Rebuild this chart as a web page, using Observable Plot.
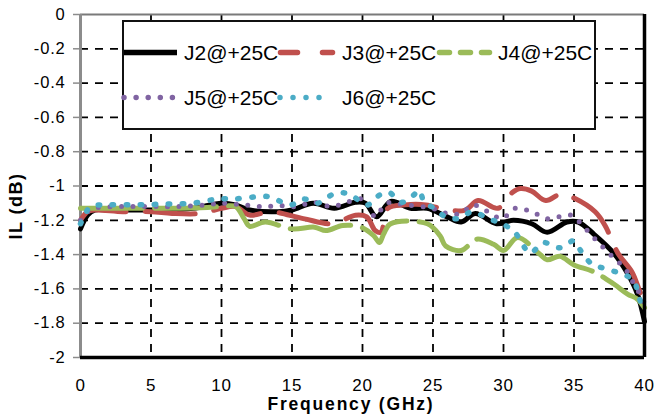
<!DOCTYPE html>
<html><head><meta charset="utf-8">
<script src="https://cdn.jsdelivr.net/npm/d3@7"></script>
<script src="https://cdn.jsdelivr.net/npm/@observablehq/plot@0.6"></script>
<style>
html,body{margin:0;padding:0;background:#fff;}
#chart{position:relative;width:657px;height:418px;overflow:hidden;}
</style></head><body><div id="chart"></div>
<script>
// ---- data ----
const seriesNames = ["J2@+25C", "J3@+25C", "J4@+25C", "J5@+25C", "J6@+25C"];

const j2Freq = [0, 0.5, 1, 2, 4, 6, 8, 10, 11, 12, 14, 15, 16.5, 18, 19.5, 20.2, 21, 22, 23.4, 24.6, 26, 27, 28, 29.5, 30.7, 32, 33.1, 34.5, 35.3, 36.4, 37.8, 38.8, 39.5, 40];
const j2IL   = [-1.25, -1.17, -1.14, -1.14, -1.14, -1.14, -1.13, -1.10, -1.11, -1.14, -1.15, -1.14, -1.10, -1.13, -1.095, -1.10, -1.18, -1.09, -1.13, -1.13, -1.18, -1.21, -1.16, -1.22, -1.20, -1.22, -1.27, -1.21, -1.21, -1.28, -1.39, -1.51, -1.63, -1.79];

const j3Freq = [0, 0.5, 1, 3, 5, 6.5, 8.5, 10, 11, 12, 13.5, 15.8, 17.9, 19.5, 20.3, 20.9, 21.3, 21.8, 23, 24.5, 26, 27.3, 28.2, 29.6, 30.6, 31.2, 32, 33, 34.1, 35, 36.5, 37.2, 38.1, 39.1, 39.6, 40];
const j3IL   = [-1.2, -1.15, -1.14, -1.15, -1.15, -1.16, -1.16, -1.13, -1.12, -1.17, -1.15, -1.19, -1.22, -1.17, -1.18, -1.26, -1.27, -1.13, -1.11, -1.11, -1.14, -1.14, -1.085, -1.13, -1.04, -1.015, -1.03, -1.085, -1.045, -1.07, -1.15, -1.23, -1.39, -1.50, -1.60, -1.68];

const j4Freq = [0, 1, 3, 5, 7, 9, 10, 11, 11.6, 12, 13.1, 15, 16.6, 17.4, 18.6, 19.9, 20.8, 21.2, 21.5, 22, 24.6, 25.5, 25.9, 27, 28.1, 29.3, 30, 31, 32.6, 33.1, 34, 35, 36.4, 37.8, 38.8, 39.5, 40];
const j4IL   = [-1.13, -1.13, -1.13, -1.13, -1.13, -1.125, -1.12, -1.12, -1.19, -1.235, -1.21, -1.25, -1.24, -1.26, -1.23, -1.24, -1.29, -1.33, -1.28, -1.22, -1.22, -1.29, -1.35, -1.376, -1.31, -1.34, -1.376, -1.30, -1.40, -1.43, -1.41, -1.46, -1.50, -1.57, -1.63, -1.66, -1.71];

const j5Freq = [0, 0.5, 1, 3, 5, 7, 9, 10, 11.5, 13, 14.3, 15.2, 16.6, 17.8, 19.7, 20.2, 20.9, 21.7, 23, 24.9, 26, 27, 27.8, 28.9, 29.9, 30.8, 32, 33.1, 34.8, 35.5, 36.5, 37.7, 38.6, 39.1, 39.6, 40];
const j5IL   = [-1.2, -1.15, -1.13, -1.12, -1.12, -1.12, -1.11, -1.10, -1.11, -1.12, -1.115, -1.12, -1.095, -1.12, -1.075, -1.08, -1.18, -1.10, -1.11, -1.13, -1.16, -1.16, -1.11, -1.15, -1.19, -1.13, -1.15, -1.19, -1.17, -1.22, -1.31, -1.41, -1.48, -1.55, -1.62, -1.685];

const j6Freq = [0, 0.3, 0.7, 2, 4, 6, 8, 9.8, 11, 12.9, 13.5, 14.9, 15.8, 16.8, 18, 19, 20, 20.4, 20.9, 21.8, 22.8, 23.6, 24, 24.4, 25.1, 25.9, 26.8, 27.8, 28.9, 29.9, 30.8, 31.9, 32.8, 34, 35, 35.5, 36.2, 37.1, 38.3, 39.2, 39.7, 40];
const j6IL   = [-1.22, -1.17, -1.12, -1.11, -1.11, -1.105, -1.10, -1.075, -1.075, -1.06, -1.065, -1.11, -1.075, -1.10, -1.045, -1.045, -1.10, -1.11, -1.07, -1.035, -1.095, -1.055, -1.025, -1.095, -1.13, -1.18, -1.19, -1.15, -1.19, -1.22, -1.27, -1.39, -1.33, -1.36, -1.32, -1.38, -1.45, -1.48, -1.51, -1.55, -1.67, -1.73];

const xTicks = [0, 5, 10, 15, 20, 25, 30, 35, 40];
const yTicks = [0, -0.2, -0.4, -0.6, -0.8, -1, -1.2, -1.4, -1.6, -1.8, -2];
const xTitle = "Frequency (GHz)";
const yTitle = "IL (dB)";

// ---- build table ----
const rows = [];
[[j2Freq, j2IL], [j3Freq, j3IL], [j4Freq, j4IL], [j5Freq, j5IL], [j6Freq, j6IL]].forEach(([f, v], k) => {
  f.forEach((x, i) => rows.push({series: seriesNames[k], freq: x, il: v[i]}));
});

const styles = [
  {color: "#000000", width: 5,   dash: null},
  {color: "#C0504D", width: 5,   dash: "50,19"},
  {color: "#9BBB59", width: 5,   dash: "62,12"},
  {color: "#8064A2", width: 5,   dash: "0,11.5"},
  {color: "#4BACC6", width: 5.5, dash: "1.5,12.5"}
];

const font = "'Liberation Sans', Arial, sans-serif";
const fmt = d => String(Math.round(d * 10) / 10);

const lineMarks = seriesNames.map((name, k) => Plot.line(rows.filter(r => r.series === name), {
  x: "freq", y: "il", curve: "catmull-rom",
  stroke: styles[k].color, strokeWidth: styles[k].width,
  strokeDasharray: styles[k].dash, strokeLinecap: "round", strokeLinejoin: "round"
}));

const chart = Plot.plot({
  width: 657, height: 418,
  marginLeft: 80, marginRight: 13, marginTop: 14, marginBottom: 61,
  style: {fontFamily: font, fontSize: "17px", color: "black", background: "white"},
  x: {domain: [0, 40]},
  y: {domain: [-2, 0]},
  marks: [
    Plot.gridX({ticks: xTicks.slice(1, -1), stroke: "black", strokeOpacity: 1, strokeWidth: 1.8, strokeDasharray: "8,7"}),
    Plot.gridY({ticks: yTicks.slice(1, -1), stroke: "black", strokeOpacity: 1, strokeWidth: 1.8, strokeDasharray: "8,7"}),
    Plot.ruleY([0], {stroke: "#7a7a7a", strokeWidth: 2}),
    Plot.ruleX([0], {stroke: "#8c8c8c", strokeWidth: 3}),
    Plot.axisX({ticks: xTicks, tickSize: 0, tickPadding: 21, tickFormat: fmt, label: null, fontSize: 17}),
    Plot.axisY({ticks: yTicks, tickSize: 7, tickPadding: 8, tickFormat: fmt, label: null, stroke: "#8c8c8c", strokeWidth: 1.5, fontSize: 16.5, fill: "black"}),
    ...lineMarks,
    Plot.ruleY([-2], {stroke: "black", strokeWidth: 3.5}),
    Plot.ruleX([40], {stroke: "black", strokeWidth: 3.5})
  ]
});
document.getElementById("chart").appendChild(chart);

// ---- axis titles and in-plot legend (layout added on the Plot SVG) ----
const svg = d3.select(chart);
svg.selectAll("g[aria-label='y-axis tick label'] text, g[aria-label='x-axis tick label'] text").style("letter-spacing", "0.8px");
svg.append("text").attr("x", 351).attr("y", 410).attr("text-anchor", "middle")
  .attr("font-family", font).attr("font-weight", "bold").attr("font-size", 17.5).attr("letter-spacing", "1.8px")
  .attr("fill", "black").text(xTitle);
svg.append("text").attr("transform", "translate(22,206) rotate(-90)").attr("text-anchor", "middle")
  .attr("font-family", font).attr("font-weight", "bold").attr("font-size", 18).attr("letter-spacing", "1.5px")
  .attr("fill", "black").text(yTitle);

const lg = svg.append("g").attr("aria-label", "legend");
lg.append("rect").attr("x", 123).attr("y", 21).attr("width", 472).attr("height", 108)
  .attr("fill", "white").attr("stroke", "#111").attr("stroke-width", 2);
const legendItems = [
  {x1: 124, x2: 177, cy: 52.5, tx: 184, dash: null},
  {x1: 280.5, x2: 332.5, cy: 52.5, tx: 342, dash: "17,25"},
  {x1: 439.5, x2: 489.5, cy: 52.5, tx: 498, dash: "10,11"},
  {x1: 124, x2: 173, cy: 97.5, tx: 184, dash: "0,12.1"},
  {x1: 280, x2: 332, cy: 97.5, tx: 342, dash: "0,13"}
];
legendItems.forEach((it, k) => {
  lg.append("line").attr("x1", it.x1).attr("x2", it.x2).attr("y1", it.cy).attr("y2", it.cy)
    .attr("stroke", styles[k].color).attr("stroke-width", 5.5)
    .attr("stroke-linecap", k === 0 ? "butt" : "round")
    .attr("stroke-dasharray", it.dash);
  lg.append("text").attr("x", it.tx).attr("y", it.cy + 7.5).attr("text-anchor", "start")
    .attr("font-family", font).attr("font-size", 21).attr("fill", "black").text(seriesNames[k]);
});
</script>
</body></html>
